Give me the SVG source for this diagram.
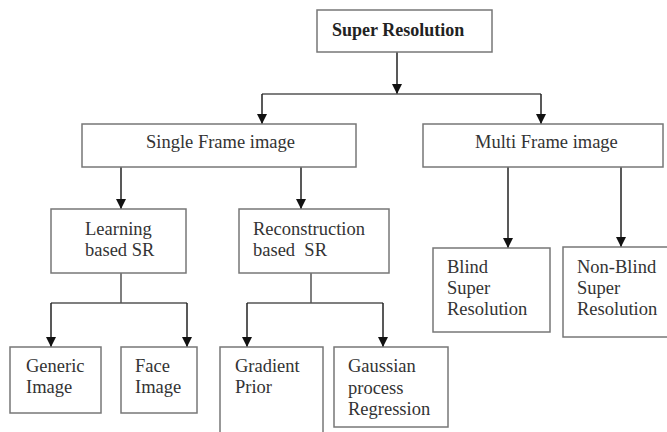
<svg xmlns="http://www.w3.org/2000/svg" width="667" height="432" viewBox="0 0 667 432">
<style>
.box{fill:#fff;stroke:#777;stroke-width:1.5}
.t{font-family:"Liberation Serif","Times New Roman",serif;font-size:18.5px;fill:#333}
.b{font-weight:bold;fill:#222;font-size:18px}
.ln{fill:none;stroke:#555;stroke-width:1.5}
.al{fill:none;stroke:#222;stroke-width:1.5;marker-end:url(#ah)}
</style>
<defs>
<marker id="ah" viewBox="0 0 10 10" refX="10" refY="5" markerWidth="10" markerHeight="10" markerUnits="userSpaceOnUse" orient="auto">
<path d="M0,0 L10,5 L0,10 z" fill="#111"/>
</marker>
</defs>
<rect width="667" height="432" fill="#fff"/>
<g id="connectors">
<line class="al" x1="397" y1="52" x2="397" y2="94"/>
<line class="ln" x1="262" y1="94" x2="541" y2="94"/>
<line class="al" x1="262" y1="94" x2="262" y2="124"/>
<line class="al" x1="541" y1="94" x2="541" y2="124"/>
<line class="al" x1="121" y1="167" x2="121" y2="209"/>
<line class="al" x1="301" y1="167" x2="301" y2="209"/>
<line class="al" x1="508" y1="167" x2="508" y2="248"/>
<line class="al" x1="621" y1="167" x2="621" y2="247"/>
<line class="ln" x1="121" y1="273" x2="121" y2="303"/>
<line class="ln" x1="51" y1="303" x2="187" y2="303"/>
<line class="al" x1="51" y1="303" x2="51" y2="347"/>
<line class="al" x1="187" y1="303" x2="187" y2="347"/>
<line class="ln" x1="311" y1="273" x2="311" y2="303"/>
<line class="ln" x1="247" y1="303" x2="383" y2="303"/>
<line class="al" x1="247" y1="303" x2="247" y2="347"/>
<line class="al" x1="383" y1="303" x2="383" y2="347"/>
</g>
<g id="super-resolution">
<rect class="box" x="317" y="10" width="175" height="42"/>
<text class="t b" x="332" y="36">Super Resolution</text>
</g>
<g id="single-frame">
<rect class="box" x="82" y="124" width="274" height="43"/>
<text class="t" x="146" y="148">Single Frame image</text>
</g>
<g id="multi-frame">
<rect class="box" x="423" y="124" width="240" height="43"/>
<text class="t" x="475" y="148">Multi Frame image</text>
</g>
<g id="learning">
<rect class="box" x="51" y="209" width="135" height="64"/>
<text class="t" x="85" y="235">Learning</text>
<text class="t" x="85" y="256">based SR</text>
</g>
<g id="reconstruction">
<rect class="box" x="239" y="209" width="150" height="64"/>
<text class="t" x="253" y="235">Reconstruction</text>
<text class="t" x="253" y="256" xml:space="preserve">based  SR</text>
</g>
<g id="blind">
<rect class="box" x="433" y="248" width="117" height="84"/>
<text class="t" x="447" y="273">Blind</text>
<text class="t" x="447" y="294">Super</text>
<text class="t" x="447" y="315">Resolution</text>
</g>
<g id="non-blind">
<rect class="box" x="563" y="247" width="110" height="90"/>
<text class="t" x="577" y="273">Non-Blind</text>
<text class="t" x="577" y="294">Super</text>
<text class="t" x="577" y="315">Resolution</text>
</g>
<g id="generic">
<rect class="box" x="10" y="347" width="91" height="66"/>
<text class="t" x="26" y="372">Generic</text>
<text class="t" x="26" y="393">Image</text>
</g>
<g id="face">
<rect class="box" x="121" y="347" width="76" height="66"/>
<text class="t" x="135" y="372">Face</text>
<text class="t" x="135" y="393">Image</text>
</g>
<g id="gradient">
<rect class="box" x="220" y="347" width="103" height="90"/>
<text class="t" x="235" y="372">Gradient</text>
<text class="t" x="235" y="393">Prior</text>
</g>
<g id="gaussian">
<rect class="box" x="334" y="347" width="114" height="80"/>
<text class="t" x="348" y="372">Gaussian</text>
<text class="t" x="348" y="394">process</text>
<text class="t" x="348" y="415">Regression</text>
</g>
</svg>
